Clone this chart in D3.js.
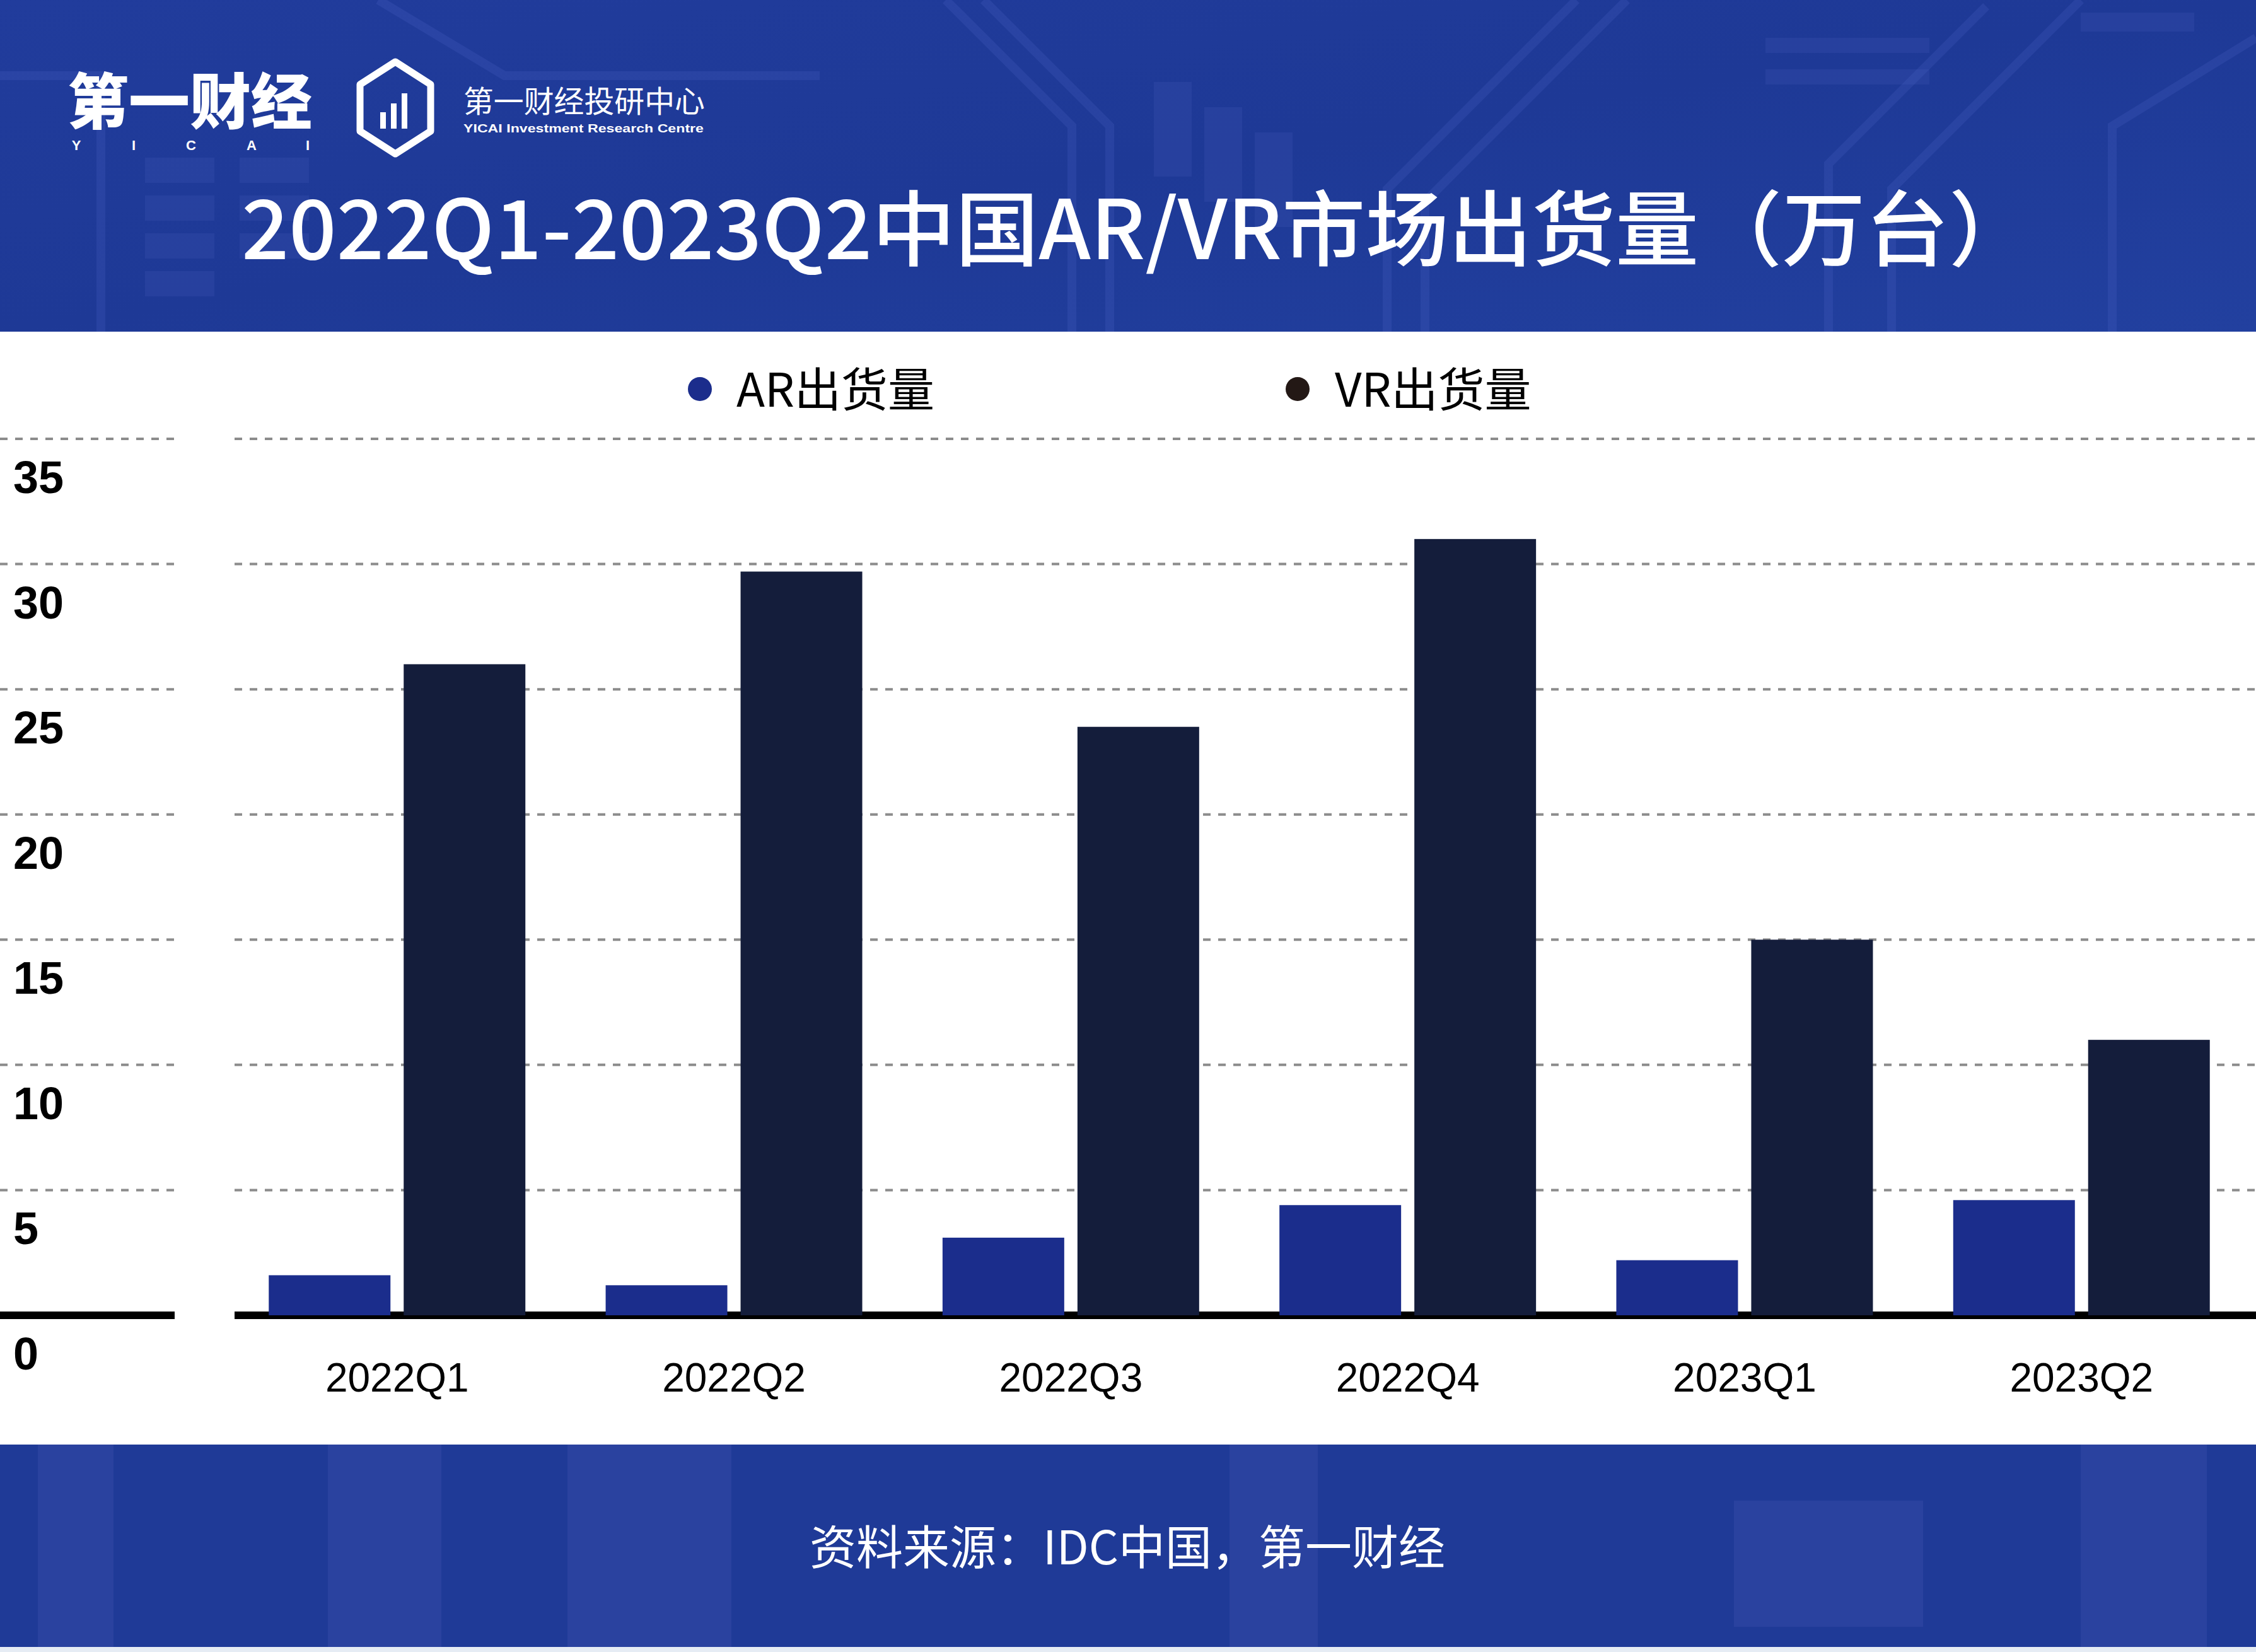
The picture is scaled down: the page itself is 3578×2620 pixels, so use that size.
<!DOCTYPE html>
<html>
<head>
<meta charset="utf-8">
<script src="https://cdn.jsdelivr.net/npm/d3@7"></script>
<style>
  html, body { margin: 0; padding: 0; background: #ffffff; }
  svg { display: block; }
</style>
</head>
<body>
<script>
// ---------------- DATA ----------------
const categories = ["2022Q1", "2022Q2", "2022Q3", "2022Q4", "2023Q1", "2023Q2"];
const seriesNames = ["AR出货量", "VR出货量"];
const arValues = [1.6, 1.2, 3.1, 4.4, 2.2, 4.6];
const vrValues = [26.0, 29.7, 23.5, 31.0, 15.0, 11.0];
const yTicks = [0, 5, 10, 15, 20, 25, 30, 35];
const titleText = "2022Q1-2023Q2中国AR/VR市场出货量（万台）";
const sourceText = "资料来源：IDC中国，第一财经";
const logoText = "第一财经";
const logoLetters = ["Y", "I", "C", "A", "I"];
const centreName = "第一财经投研中心";
const centreNameEn = "YICAI Investment Research Centre";

// ---------------- LAYOUT ----------------
const W = 3578, H = 2620;
const CJK = "'Noto Sans CJK SC', 'Noto Sans', sans-serif";
const colors = { AR: "#1b2d8c", VR: "#141d3b", VRdot: "#231815" };

const svg = d3.select("body").append("svg")
  .attr("width", W).attr("height", H)
  .attr("viewBox", `0 0 ${W} ${H}`);

svg.append("rect").attr("width", W).attr("height", H).attr("fill", "#ffffff");

// ---------------- HEADER ----------------
const defs = svg.append("defs");
const hg = defs.append("linearGradient").attr("id", "hg").attr("x1", 0).attr("y1", 0).attr("x2", 1).attr("y2", 1);
hg.append("stop").attr("offset", "0%").attr("stop-color", "#213c9c");
hg.append("stop").attr("offset", "50%").attr("stop-color", "#1e3996");
hg.append("stop").attr("offset", "100%").attr("stop-color", "#22409f");

const header = svg.append("g");
header.append("rect").attr("x", 0).attr("y", 0).attr("width", W).attr("height", 526).attr("fill", "url(#hg)");

// circuit-like decorations (static, decorative only)
const decoRects = [
  [230, 250, 110, 40], [230, 310, 110, 40], [230, 370, 110, 40], [230, 430, 110, 40],
  [380, 250, 110, 40], [380, 310, 110, 40], [380, 370, 110, 40],
  [1830, 130, 60, 150], [1910, 170, 60, 150], [1990, 210, 60, 150],
  [2800, 60, 260, 24], [2800, 110, 260, 24], [3300, 20, 180, 30]
];
header.selectAll("rect.deco").data(decoRects).join("rect")
  .attr("class", "deco")
  .attr("x", d => d[0]).attr("y", d => d[1]).attr("width", d => d[2]).attr("height", d => d[3])
  .attr("fill", "#4a5fc0").attr("opacity", 0.2);
const decoPaths = [
  "M1500,0 L1700,200 L1700,526", "M1560,0 L1760,200 L1760,526",
  "M2200,526 L2200,300 L2500,0", "M2260,526 L2260,320 L2580,0",
  "M2900,526 L2900,260 L3150,10", "M3000,526 L3000,300 L3300,0",
  "M3350,526 L3350,200 L3578,60", "M600,0 L800,120 L1300,120",
  "M0,120 L160,120 L160,526"
];
header.selectAll("path.deco").data(decoPaths).join("path")
  .attr("class", "deco").attr("d", d => d)
  .attr("fill", "none").attr("stroke", "#5a6fd0").attr("stroke-width", 14).attr("opacity", 0.18);

// logo
header.append("text")
  .attr("x", 107).attr("y", 196)
  .attr("font-family", CJK).attr("font-weight", 900).attr("font-size", 96)
  .attr("fill", "#ffffff")
  .attr("textLength", 388).attr("lengthAdjust", "spacingAndGlyphs")
  .text(logoText);
const letterX = [121, 212, 303, 399, 488];
header.selectAll("text.yicai").data(logoLetters).join("text")
  .attr("class", "yicai")
  .attr("x", (d, i) => letterX[i]).attr("y", 238)
  .attr("text-anchor", "middle")
  .attr("font-family", "'Liberation Sans', Arial, sans-serif").attr("font-weight", 700).attr("font-size", 22)
  .attr("fill", "#ffffff").text(d => d);

// hexagon icon
header.append("path")
  .attr("d", "M627,98 L683,134 L683,208 L627,244 L571,208 L571,134 Z")
  .attr("fill", "none").attr("stroke", "#ffffff").attr("stroke-width", 11).attr("stroke-linejoin", "round");
const iconBars = [[603, 178, 9, 26], [620, 164, 9, 40], [637, 148, 9, 56]];
header.selectAll("rect.ib").data(iconBars).join("rect")
  .attr("class", "ib")
  .attr("x", d => d[0]).attr("y", d => d[1]).attr("width", d => d[2]).attr("height", d => d[3])
  .attr("fill", "#ffffff");
header.append("text")
  .attr("x", 735).attr("y", 178)
  .attr("font-family", CJK).attr("font-size", 48).attr("fill", "#ffffff")
  .attr("textLength", 383).attr("lengthAdjust", "spacingAndGlyphs")
  .text(centreName);
header.append("text")
  .attr("x", 735).attr("y", 210)
  .attr("font-family", "'Liberation Sans', Arial, sans-serif").attr("font-weight", 700).attr("font-size", 19)
  .attr("fill", "#ffffff")
  .attr("textLength", 381).attr("lengthAdjust", "spacingAndGlyphs")
  .text(centreNameEn);

// title
header.append("text")
  .attr("x", 383).attr("y", 411)
  .attr("font-family", CJK).attr("font-weight", 500).attr("font-size", 130)
  .attr("fill", "#ffffff")
  .attr("textLength", 2840).attr("lengthAdjust", "spacingAndGlyphs")
  .text(titleText);

// ---------------- FOOTER ----------------
const footer = svg.append("g");
footer.append("rect").attr("x", 0).attr("y", 2291).attr("width", W).attr("height", 321).attr("fill", "#1f3a97");
const footDeco = [
  [60, 2291, 120, 321], [520, 2291, 180, 321], [900, 2291, 260, 321],
  [1950, 2291, 140, 321], [2750, 2380, 300, 200], [3300, 2291, 200, 321]
];
footer.selectAll("rect.fd").data(footDeco).join("rect")
  .attr("class", "fd")
  .attr("x", d => d[0]).attr("y", d => d[1]).attr("width", d => d[2]).attr("height", d => d[3])
  .attr("fill", "#4d5cb8").attr("opacity", 0.25);
footer.append("rect").attr("x", 0).attr("y", 2612).attr("width", W).attr("height", 8).attr("fill", "#e6ecf4");
footer.append("text")
  .attr("x", 1788).attr("y", 2481)
  .attr("text-anchor", "middle")
  .attr("font-family", CJK).attr("font-size", 74).attr("fill", "#ffffff")
  .text(sourceText);

// ---------------- SCALES ----------------
const x0 = d3.scaleBand()
  .domain(categories)
  .range([362.6, 3568.4])
  .paddingInner(0.2383)
  .paddingOuter(0.11915);
const x1 = d3.scaleBand()
  .domain(seriesNames)
  .range([0, x0.bandwidth()])
  .paddingInner(0.0981)
  .paddingOuter(0);
const y = d3.scaleLinear().domain([0, 35]).range([2086, 696]);

const chart = svg.append("g");

// gridlines (two segments as in reference)
const segs = [[0, 277], [372, W]];
yTicks.filter(v => v > 0).forEach(v => {
  segs.forEach(s => {
    chart.append("line")
      .attr("x1", s[0]).attr("x2", s[1])
      .attr("y1", y(v)).attr("y2", y(v))
      .attr("stroke", "#8c8c8c").attr("stroke-width", 4)
      .attr("stroke-dasharray", "12,12");
  });
});
// baseline
segs.forEach(s => {
  chart.append("line")
    .attr("x1", s[0]).attr("x2", s[1])
    .attr("y1", y(0)).attr("y2", y(0))
    .attr("stroke", "#000000").attr("stroke-width", 12);
});

// y tick labels
chart.selectAll("text.ytick").data(yTicks).join("text")
  .attr("class", "ytick")
  .attr("x", 21).attr("y", d => y(d) + 86)
  .attr("font-family", "'Liberation Sans', Arial, sans-serif").attr("font-weight", 700).attr("font-size", 72)
  .attr("fill", "#000000")
  .text(d => d);

// bars
const rows = categories.map((c, i) => ({ cat: c, vals: [
  { key: seriesNames[0], v: arValues[i], color: colors.AR },
  { key: seriesNames[1], v: vrValues[i], color: colors.VR }
]}));
const groups = chart.selectAll("g.grp").data(rows).join("g")
  .attr("class", "grp")
  .attr("transform", d => `translate(${x0(d.cat)},0)`);
groups.selectAll("rect").data(d => d.vals).join("rect")
  .attr("x", d => x1(d.key))
  .attr("width", x1.bandwidth())
  .attr("y", d => y(d.v))
  .attr("height", d => y(0) - y(d.v))
  .attr("fill", d => d.color);

// category axis
const xAxis = chart.append("g")
  .attr("transform", `translate(0,${y(0)})`)
  .call(d3.axisBottom(x0).tickSize(0).tickPadding(76));
xAxis.select(".domain").remove();
xAxis.selectAll("text")
  .attr("font-family", "'Liberation Sans', Arial, sans-serif")
  .attr("font-size", 64)
  .attr("fill", "#000000");

// legend
const legend = svg.append("g");
const legendItems = [
  { name: seriesNames[0], color: colors.AR, cx: 1110, tx: 1168 },
  { name: seriesNames[1], color: colors.VRdot, cx: 2058, tx: 2117 }
];
legendItems.forEach(it => {
  legend.append("circle").attr("cx", it.cx).attr("cy", 617).attr("r", 19).attr("fill", it.color);
  legend.append("text").attr("x", it.tx).attr("y", 645)
    .attr("font-family", CJK).attr("font-size", 74).attr("fill", "#000000")
    .text(it.name);
});
</script>
</body>
</html>
